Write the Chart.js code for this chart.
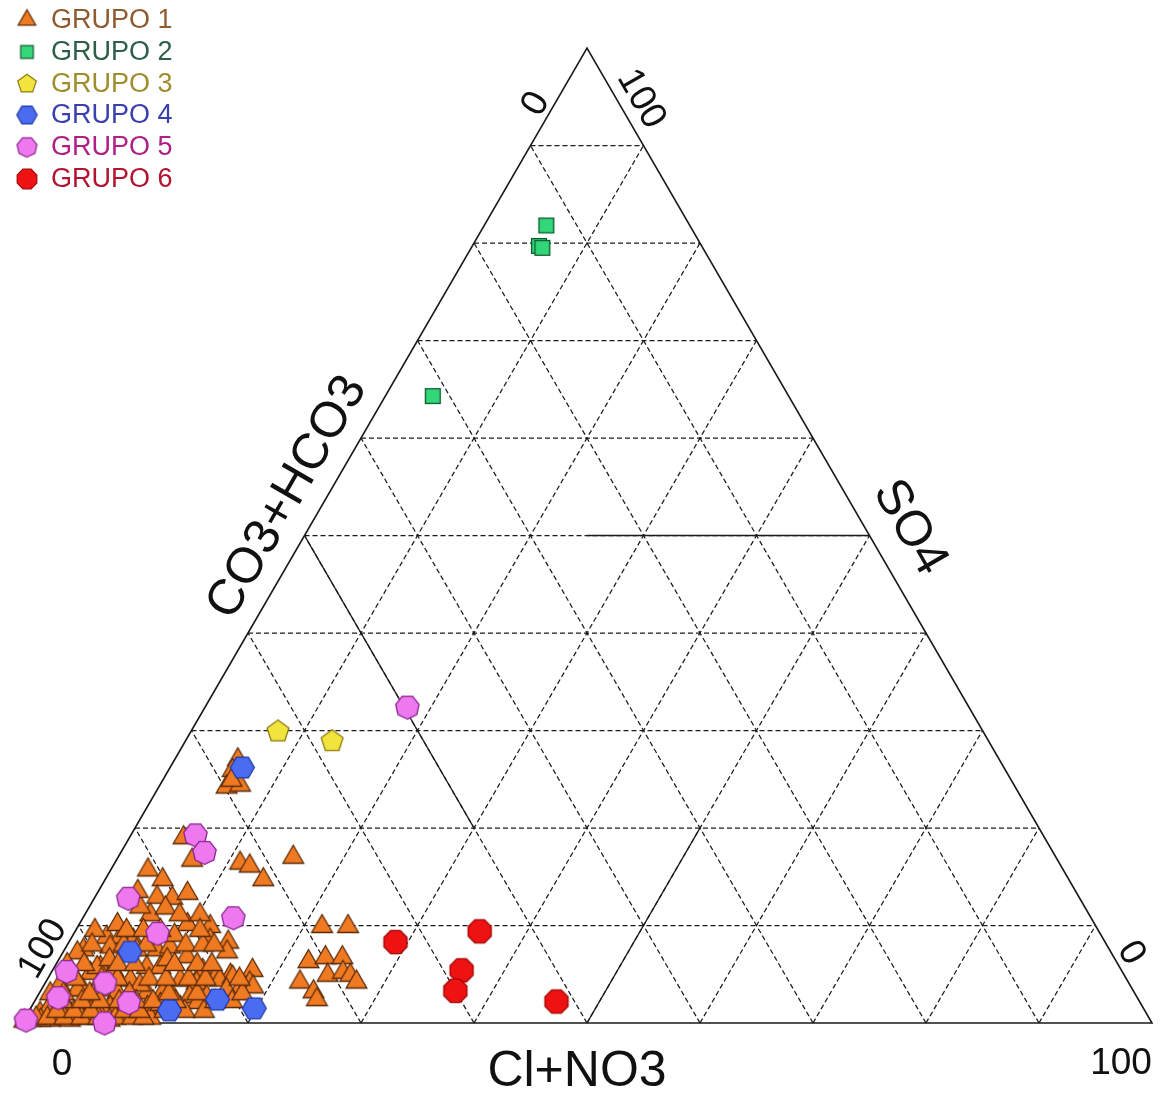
<!DOCTYPE html>
<html>
<head>
<meta charset="utf-8">
<title>Diagrama ternario de aniones</title>
<script src="https://cdn.jsdelivr.net/npm/chart.js@4.4.1/dist/chart.umd.min.js"></script>
<style>
  html, body { margin: 0; padding: 0; background: #ffffff; }
  #wrap { width: 1166px; height: 1093px; position: relative; }
</style>
</head>
<body>
<div id="wrap"><canvas id="piper" width="1166" height="1093"></canvas></div>
<script>
// Each sample is [Cl+NO3 %, SO4 %]; CO3+HCO3 is the remainder to 100 %.
const groupNames = ['GRUPO 1', 'GRUPO 2', 'GRUPO 3', 'GRUPO 4', 'GRUPO 5', 'GRUPO 6'];

const grupo1 = [
  [5.6, 27.0], [5.7, 25.9], [6.0, 24.2], [7.1, 24.4], [6.1, 24.9],
  [11.1, 16.4], [12.1, 16.1], [14.0, 14.7], [15.5, 17.0], [4.8, 19.0],
  [6.7, 16.7], [3.3, 15.7], [5.1, 14.7], [5.5, 12.9], [6.9, 12.8],
  [8.0, 13.3], [5.8, 11.1], [4.5, 11.9], [9.6, 10.1], [11.7, 9.9],
  [12.4, 8.5], [14.1, 8.3], [14.5, 7.3], [21.6, 9.9], [23.9, 9.9],
  [22.2, 6.3], [23.5, 6.7], [25.0, 6.7], [22.5, 4.2], [24.2, 3.2],
  [24.9, 2.4], [24.6, 4.9], [25.8, 5.2], [26.6, 4.9], [27.5, 4.2],
  [17.7, 5.4], [18.1, 4.1], [17.5, 3.1], [13.3, 5.4], [14.8, 4.9],
  [16.0, 4.9], [3.1, 8.8], [4.3, 8.8], [5.6, 8.5], [3.9, 7.8],
  [6.4, 7.5], [8.2, 7.5], [9.2, 7.8], [1.7, 7.5], [8.2, 5.7],
  [9.4, 5.7], [9.6, 6.5], [11.2, 6.8], [4.1, 5.7], [5.4, 5.4],
  [3.5, 5.1], [7.4, 4.4], [11.8, 4.4], [13.4, 4.1], [15.3, 4.4],
  [16.3, 4.7], [18.6, 3.7], [3.7, 3.4], [5.2, 3.4], [6.9, 3.1],
  [9.5, 3.1], [10.9, 3.1], [12.0, 2.7], [13.5, 2.7], [15.0, 2.7],
  [16.4, 3.4], [5.5, 1.6], [7.9, 1.6], [10.3, 1.6], [13.2, 1.6],
  [14.5, 2.1], [8.3, 0.8], [1.3, 7.2], [3.8, 5.7], [4.5, 6.5],
  [5.7, 7.2], [3.2, 3.4], [3.2, 1.6], [4.8, 2.1], [1.1, 1.0],
  [0.6, 0.3], [2.3, 0.3], [4.1, 0.3], [5.5, 0.5], [7.0, 1.6],
  [9.0, 0.6], [1.9, 2.4], [1.6, 1.3], [0.1, 0.2], [1.4, 3.9],
  [1.6, 5.4], [7.6, 0.3], [11.1, 0.5], [11.3, 1.9], [8.5, 3.9],
  [1.5, 0.3], [3.1, 0.8], [6.5, 0.8], [3.4, 10.1], [1.7, 9.5],
  [6.8, 11.8], [8.4, 11.1], [10.2, 11.1], [9.0, 9.0],
  [1.0, 0.5], [2.0, 0.5], [3.5, 0.5], [5.0, 0.5], [6.5, 0.5],
  [8.0, 0.5], [9.5, 0.5], [10.5, 0.5], [2.5, 1.2], [4.0, 1.2],
  [5.5, 1.2], [8.5, 1.2], [9.8, 1.2], [12.0, 1.2], [13.8, 1.2],
  [15.5, 1.2], [2.5, 2.2], [4.2, 2.2], [5.8, 2.2], [7.5, 2.2],
  [9.0, 2.2], [10.5, 2.2], [12.5, 2.2], [16.0, 2.2], [17.5, 2.2],
  [1.0, 3.0], [2.2, 3.0], [4.5, 3.0], [8.0, 3.0], [11.5, 3.0],
  [14.0, 3.0], [18.0, 3.0], [2.5, 4.5], [4.8, 4.5], [6.2, 4.5],
  [9.0, 4.5], [10.5, 4.5], [12.5, 4.5], [14.0, 4.5], [17.0, 4.5],
  [1.0, 6.0], [2.5, 6.0], [5.5, 6.0], [7.0, 6.0], [10.5, 6.0],
  [12.5, 6.0], [13.8, 6.0], [2.2, 8.0], [5.0, 8.0], [7.0, 8.0],
  [10.5, 8.0], [12.0, 8.0], [13.0, 8.0], [4.5, 9.5], [6.0, 9.5],
  [7.5, 9.5], [11.0, 9.5], [3.5, 13.5]
];
const grupo2 = [[5.5, 81.8], [5.9, 79.7], [6.3, 79.5], [4.2, 64.3]];
const grupo3 = [[7.7, 29.9], [13.0, 28.9]];
const grupo4 = [[6.4, 26.2], [16.1, 2.4], [19.8, 1.5], [12.4, 1.3], [5.9, 7.3]];
const grupo5 = [
  [17.9, 32.4], [5.7, 19.3], [7.4, 17.5], [3.0, 12.8], [13.3, 10.8],
  [7.4, 9.2], [1.3, 5.3], [1.9, 2.6], [0.2, 0.3], [7.3, 0.0],
  [8.4, 2.1], [5.3, 4.1]
];
const grupo6 = [[28.9, 8.3], [35.8, 9.4], [36.2, 5.4], [36.7, 3.3], [46.2, 2.2]];

// Grid levels (percent) and the end labels of each side
const gridSteps = [10, 20, 30, 40, 50, 60, 70, 80, 90];
const sideEndLabels = ['0', '100'];
const axisTitles = { left: 'CO3+HCO3', right: 'SO4', bottom: 'Cl+NO3' };

// Ternary (Cl, SO4) -> cartesian in units of the triangle base
function tern(cl, so4) {
  return { x: (cl + so4 / 2) / 100, y: so4 / 100 };
}

// Polygon marker drawn onto a small canvas (3 = triangle ... 8 = octagon)
function polyMarker(n, r, rotDeg, fill, stroke, lw) {
  const size = Math.ceil(2 * (r + lw)) + 2;
  const cv = document.createElement('canvas');
  cv.width = size; cv.height = size;
  const g = cv.getContext('2d');
  const c = size / 2;
  const rot = rotDeg * Math.PI / 180;
  g.beginPath();
  for (let i = 0; i < n; i++) {
    const a = rot + i * 2 * Math.PI / n;
    const px = c + r * Math.cos(a), py = c + r * Math.sin(a);
    if (i === 0) g.moveTo(px, py); else g.lineTo(px, py);
  }
  g.closePath();
  g.fillStyle = fill; g.fill();
  g.lineWidth = lw; g.strokeStyle = stroke; g.stroke();
  return cv;
}

const markerStyles = [
  { n: 3, rot: -90, r: 12,   fill: '#f07a22', stroke: '#5a2a08' },
  { n: 4, rot: 45,  r: 10.5, fill: '#34d67a', stroke: '#0d5a2c' },
  { n: 5, rot: -90, r: 11.5, fill: '#f2e43c', stroke: '#8c7c12' },
  { n: 6, rot: 0,   r: 12,   fill: '#4a6cf0', stroke: '#2438a8' },
  { n: 7, rot: 90,  r: 12,   fill: '#ee78ee', stroke: '#8a2490' },
  { n: 8, rot: 22.5, r: 12.5, fill: '#ee1212', stroke: '#a00808' }
];
const legendTextColors = ['#8e5a30', '#2d5e48', '#9e8e2c', '#3a40b0', '#b02084', '#b01430'];

const plotMarkers = markerStyles.map(m => polyMarker(m.n, m.r, m.rot, m.fill, m.stroke, 1.3));
const legendMarkers = markerStyles.map(m => polyMarker(m.n, m.r * 0.85, m.rot, m.fill, m.stroke, 1.2));

const groups = [grupo1, grupo2, grupo3, grupo4, grupo5, grupo6];
// drawing priority: lower value is painted later (on top)
const groupOrder = [6, 4, 3, 5, 1, 2];

const datasets = [];

// dashed 10 % grid
gridSteps.forEach(k => {
  const segs = [
    [tern(0, k), tern(100 - k, k)],      // constant SO4
    [tern(k, 0), tern(k, 100 - k)],      // constant Cl+NO3
    [tern(100 - k, 0), tern(0, 100 - k)] // constant CO3+HCO3
  ];
  segs.forEach(s => datasets.push({
    data: s, showLine: true, pointRadius: 0, borderColor: '#1c1c1c',
    borderWidth: 1.25, borderDash: [5, 3], order: 30, clip: false
  }));
});

// solid 50 % division segments
[
  [tern(25, 50), tern(50, 50)],
  [tern(0, 50), tern(30, 20)],
  [tern(50, 0), tern(50, 20)]
].forEach(s => datasets.push({
  data: s, showLine: true, pointRadius: 0, borderColor: '#1a1a1a',
  borderWidth: 1.4, order: 25, clip: false
}));

// triangle outline
datasets.push({
  data: [tern(0, 0), tern(100, 0), tern(0, 100), tern(0, 0)],
  showLine: true, pointRadius: 0, borderColor: '#1a1a1a', borderWidth: 1.6,
  order: 20, clip: false
});

// samples
groups.forEach((g, i) => {
  datasets.push({
    label: groupNames[i],
    data: g.map(p => tern(p[0], p[1])),
    showLine: false,
    pointStyle: plotMarkers[i],
    pointRadius: 10,
    pointHoverRadius: 10,
    order: groupOrder[i],
    clip: false
  });
});

const FONT = '"Liberation Sans", Arial, Helvetica, sans-serif';

const ternaryText = {
  id: 'ternaryText',
  afterDraw(chart) {
    const ctx = chart.ctx;
    const xs = chart.scales.x, ys = chart.scales.y;
    const px = (cl, so4) => {
      const p = tern(cl, so4);
      return [xs.getPixelForValue(p.x), ys.getPixelForValue(p.y)];
    };
    function text(str, pos, dx, dy, rotDeg, size) {
      ctx.save();
      ctx.translate(pos[0] + dx, pos[1] + dy);
      ctx.rotate(rotDeg * Math.PI / 180);
      ctx.font = size + 'px ' + FONT;
      ctx.fillStyle = '#111111';
      ctx.textAlign = 'center';
      ctx.textBaseline = 'middle';
      ctx.fillText(str, 0, 0);
      ctx.restore();
    }
    const bl = px(0, 0), br = px(100, 0), top = px(0, 100);
    const midL = px(0, 50), midR = px(50, 50), midB = px(50, 0);

    // axis titles
    text(axisTitles.left, midL, -17, -38, -60, 50);
    text(axisTitles.right, midR, 40, -8, 60, 50);
    text(axisTitles.bottom, midB, -10, 49, 0, 50);

    // side end labels
    text(sideEndLabels[0], bl, 40, 42, 0, 37);
    text(sideEndLabels[1], br, -31, 41, 0, 37);
    text(sideEndLabels[0], top, -51, 56, -60, 37);
    text(sideEndLabels[1], top, 54, 51, 60, 37);
    text(sideEndLabels[1], bl, 21, -74, -60, 37);
    text(sideEndLabels[0], br, -21, -70, 60, 37);

    // legend
    const rowY = [20, 52, 84, 115, 147, 179];
    groupNames.forEach((name, i) => {
      const m = legendMarkers[i];
      ctx.drawImage(m, 27 - m.width / 2, rowY[i] - m.height / 2);
      ctx.save();
      ctx.font = '27px ' + FONT;
      ctx.fillStyle = legendTextColors[i];
      ctx.textAlign = 'left';
      ctx.textBaseline = 'middle';
      ctx.fillText(name, 51, rowY[i] + 1);
      ctx.restore();
    });
  }
};

new Chart(document.getElementById('piper'), {
  type: 'scatter',
  data: { datasets },
  options: {
    responsive: false,
    animation: false,
    layout: { padding: { left: 22, right: 14, top: 48, bottom: 70 } },
    scales: {
      x: { type: 'linear', min: 0, max: 1, display: false },
      y: { type: 'linear', min: 0, max: 1, display: false }
    },
    plugins: {
      legend: { display: false },
      tooltip: { enabled: false }
    },
    events: []
  },
  plugins: [ternaryText]
});
</script>
</body>
</html>
